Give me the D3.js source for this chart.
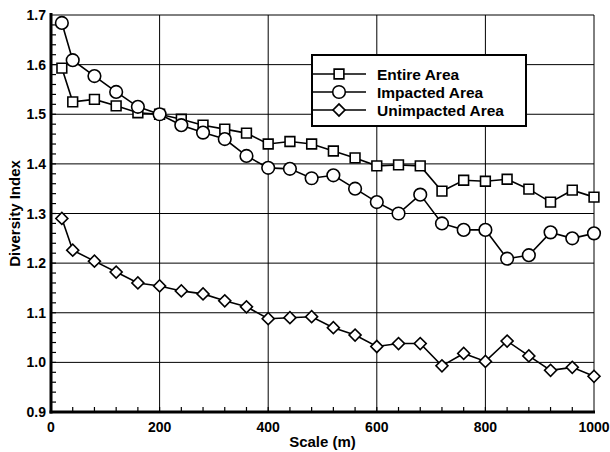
<!DOCTYPE html>
<html>
<head>
<meta charset="utf-8">
<script src="https://cdn.jsdelivr.net/npm/d3@7"></script>
<style>
  body { margin: 0; background: #fff; }
  text { font-family: "Liberation Sans", Arial, sans-serif; font-weight: bold; fill: #000; }
</style>
</head>
<body>
<svg id="chart" width="610" height="452"></svg>
<script>
// scale (m) for each point
var scales = [20, 40, 80, 120, 160, 200, 240, 280, 320, 360, 400, 440, 480, 520, 560,
              600, 640, 680, 720, 760, 800, 840, 880, 920, 960, 1000];

var entireArea = [1.593, 1.525, 1.530, 1.517, 1.503, 1.500, 1.490, 1.478, 1.470, 1.462,
                  1.440, 1.445, 1.440, 1.426, 1.412, 1.396, 1.398, 1.396, 1.345, 1.367,
                  1.365, 1.369, 1.349, 1.323, 1.347, 1.333];
var impactedArea = [1.684, 1.609, 1.577, 1.545, 1.515, 1.500, 1.478, 1.463, 1.450, 1.416,
                    1.392, 1.390, 1.371, 1.377, 1.350, 1.323, 1.300, 1.338, 1.280, 1.267,
                    1.267, 1.209, 1.216, 1.262, 1.250, 1.260];
var unimpactedArea = [1.290, 1.226, 1.204, 1.182, 1.160, 1.154, 1.144, 1.138, 1.124, 1.112,
                      1.088, 1.090, 1.092, 1.070, 1.055, 1.032, 1.038, 1.038, 0.993, 1.018,
                      1.002, 1.043, 1.013, 0.984, 0.990, 0.972];

var seriesNames = ["Entire Area", "Impacted Area", "Unimpacted Area"];
var xTicks = [0, 200, 400, 600, 800, 1000];
var yTicks = [0.9, 1.0, 1.1, 1.2, 1.3, 1.4, 1.5, 1.6, 1.7];

var svg = d3.select("#chart");
var pLeft = 51, pRight = 594, pTop = 15, pBottom = 412;

var x = d3.scaleLinear().domain([0, 1000]).range([pLeft, pRight]);
var y = d3.scaleLinear().domain([0.9, 1.7]).range([pBottom, pTop]);

// grid
var grid = svg.append("g").attr("stroke", "#000").attr("stroke-width", 1);
grid.selectAll("line.v").data(xTicks.slice(1)).enter().append("line")
    .attr("x1", function (d) { return x(d); }).attr("x2", function (d) { return x(d); })
    .attr("y1", pTop).attr("y2", pBottom);
grid.selectAll("line.h").data(yTicks.slice(1)).enter().append("line")
    .attr("y1", function (d) { return y(d); }).attr("y2", function (d) { return y(d); })
    .attr("x1", pLeft).attr("x2", pRight);

// minor ticks, pointing inward
var xMinor = d3.range(40, 1000, 40);
svg.append("g").selectAll("line").data(xMinor).enter().append("line")
    .attr("x1", function (d) { return x(d); }).attr("x2", function (d) { return x(d); })
    .attr("y1", pBottom).attr("y2", pBottom - 5)
    .attr("stroke", "#000").attr("stroke-width", 1.2);
var yMinor = d3.range(0.92, 1.7, 0.02);
svg.append("g").selectAll("line").data(yMinor).enter().append("line")
    .attr("y1", function (d) { return y(d); }).attr("y2", function (d) { return y(d); })
    .attr("x1", pLeft).attr("x2", pLeft + 5)
    .attr("stroke", "#000").attr("stroke-width", 1.2);

// axes lines
svg.append("line").attr("x1", pLeft).attr("x2", pLeft).attr("y1", pTop - 2).attr("y2", pBottom + 1.5)
    .attr("stroke", "#000").attr("stroke-width", 3);
svg.append("line").attr("x1", pLeft - 1.5).attr("x2", pRight + 1).attr("y1", pBottom).attr("y2", pBottom)
    .attr("stroke", "#000").attr("stroke-width", 3);

// tick labels
svg.append("g").selectAll("text").data(xTicks).enter().append("text")
    .attr("x", function (d) { return x(d); }).attr("y", pBottom + 20)
    .attr("text-anchor", "middle").style("font-size", "14px")
    .text(function (d) { return d; });
svg.append("g").selectAll("text").data(yTicks).enter().append("text")
    .attr("x", pLeft - 5).attr("y", function (d) { return y(d) + 5; })
    .attr("text-anchor", "end").style("font-size", "14px")
    .text(function (d) { return d.toFixed(1); });

// axis titles
svg.append("text").attr("x", x(500)).attr("y", 447).attr("text-anchor", "middle")
    .style("font-size", "15px").text("Scale (m)");
svg.append("text").attr("transform", "translate(20," + y(1.3) + ") rotate(-90)")
    .attr("text-anchor", "middle").style("font-size", "15px").text("Diversity Index");

// series
var line = d3.line()
    .x(function (d, i) { return x(scales[i]); })
    .y(function (d) { return y(d); });

// square, circle, and a square turned 45deg for the diamond
var shapes = [d3.symbolSquare, d3.symbolCircle, d3.symbolSquare];
var sizes = [95, 125, 72];
var turn = [0, 0, 45];
var allSeries = [entireArea, impactedArea, unimpactedArea];

allSeries.forEach(function (vals, k) {
    var g = svg.append("g");
    g.append("path").attr("d", line(vals)).attr("fill", "none")
        .attr("stroke", "#000").attr("stroke-width", 1.6);
    g.selectAll("path.m").data(vals).enter().append("path")
        .attr("class", "m")
        .attr("transform", function (d, i) {
            return "translate(" + x(scales[i]) + "," + y(d) + ") rotate(" + turn[k] + ")";
        })
        .attr("d", d3.symbol().type(shapes[k]).size(sizes[k]))
        .attr("fill", "#fff").attr("stroke", "#000").attr("stroke-width", 1.6);
});

// legend
var lg = svg.append("g");
lg.append("rect").attr("x", 312).attr("y", 55).attr("width", 214).attr("height", 71)
    .attr("fill", "#fff").attr("stroke", "#000").attr("stroke-width", 2);
seriesNames.forEach(function (name, k) {
    var ly = 74 + k * 18;
    lg.append("line").attr("x1", 313).attr("x2", 366).attr("y1", ly).attr("y2", ly)
        .attr("stroke", "#000").attr("stroke-width", 1.6);
    lg.append("path").attr("transform", "translate(339," + ly + ") rotate(" + turn[k] + ")")
        .attr("d", d3.symbol().type(shapes[k]).size(sizes[k]))
        .attr("fill", "#fff").attr("stroke", "#000").attr("stroke-width", 1.6);
    lg.append("text").attr("x", 377).attr("y", ly + 5.5).style("font-size", "15.5px").text(name);
});
</script>
</body>
</html>
